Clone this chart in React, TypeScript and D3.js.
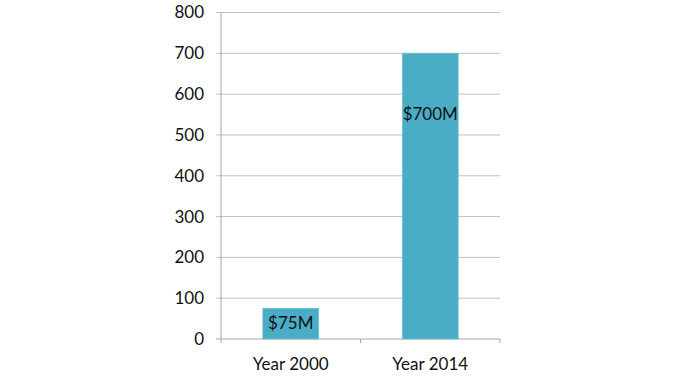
import React from "react";
import * as d3 from "d3";

const categories = ["Year 2000", "Year 2014"];
const values = [75, 700];
const valueLabels = ["$75M", "$700M"];
const labelAnchors = [38, 550];
const yTicks = [0, 100, 200, 300, 400, 500, 600, 700, 800];

export default function App() {
  const W = 680, H = 380;
  const left = 221, right = 500, top = 12.5, bottom = 339;
  const x = d3.scaleBand<string>().domain(categories).range([left, right]).paddingInner(0.6).paddingOuter(0.3);
  const band = d3.scaleBand<string>().domain(categories).range([left, right]);
  const y = d3.scaleLinear().domain([0, 800]).range([bottom, top]);
  const font = "Lato, 'Open Sans', sans-serif";
  return (
    <svg width={W} height={H} style={{ position: "absolute", left: 0, top: 0 }} fontFamily={font}>
      <rect width={W} height={H} fill="#fff" />
      {yTicks.map((t) => (
        <g key={t}>
          <line x1={left - 5} x2={right} y1={y(t)} y2={y(t)} stroke={t === 0 ? "#a6a6a6" : "#c0c0c0"} strokeWidth={1} />
          <text x={204} y={y(t)} dy="0.35em" textAnchor="end" fontSize={17} fill="#111">{t}</text>
        </g>
      ))}
      <line x1={left} x2={left} y1={top} y2={bottom + 4} stroke="#a6a6a6" />
      {categories.map((c) => (
        <line key={c} x1={(band(c) as number) + band.bandwidth()} x2={(band(c) as number) + band.bandwidth()} y1={bottom} y2={bottom + 4} stroke="#a6a6a6" />
      ))}
      {categories.map((c, i) => (
        <g key={c}>
          <rect x={x(c)} y={y(values[i])} width={x.bandwidth()} height={bottom - y(values[i])} fill="#4BACC6" stroke="#6dbdd3" strokeWidth={0.8} />
          <text x={(x(c) as number) + x.bandwidth() / 2} y={y(labelAnchors[i])} dy="0.35em" textAnchor="middle" fontSize={17} fill="#111">{valueLabels[i]}</text>
          <text x={(band(c) as number) + band.bandwidth() / 2} y={364} dy="0.35em" textAnchor="middle" fontSize={17} fill="#111">{c}</text>
        </g>
      ))}
    </svg>
  );
}
